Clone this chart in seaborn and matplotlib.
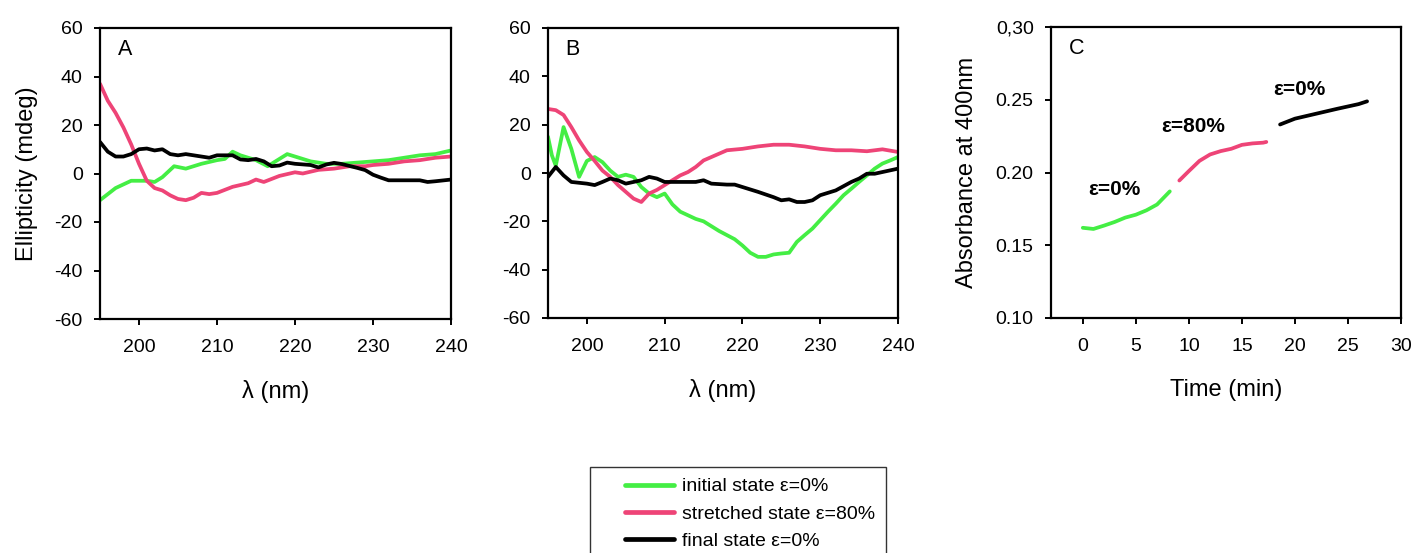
import numpy as np
import pandas as pd
import matplotlib
matplotlib.use("Agg")
import matplotlib.pyplot as plt
from matplotlib.legend_handler import HandlerLine2D
import seaborn as sns

# ---------------- data ----------------
# Panel A
a_green_x = [195, 197, 199, 201, 202, 203, 204.5, 206, 208, 210, 211, 212, 213, 215, 216.5, 218, 219, 220, 222, 224, 226, 228, 230, 232, 234, 236, 238, 240]
a_green_y = [-11, -6, -3, -3, -3.5, -1.5, 3, 2, 4, 5.5, 6, 9, 7.5, 5.5, 3, 6, 8, 7, 5, 4, 4, 4.5, 5, 5.5, 6.5, 7.5, 8, 9.5]
a_pink_x = [195, 196, 197, 198, 199, 200, 201, 202, 203, 204, 205, 206, 207, 208, 209, 210, 212, 214, 215, 216, 218, 220, 221, 223, 225, 227, 229, 230, 232, 234, 236, 238, 240]
a_pink_y = [37, 30, 25, 19, 12, 4, -3, -6, -7, -9, -10.5, -11, -10, -8, -8.5, -8, -5.5, -4, -2.5, -3.5, -1, 0.5, 0, 1.5, 2, 3, 3, 3.5, 4, 5, 5.5, 6.5, 7]
a_black_x = [195, 196, 197, 198, 199, 200, 201, 202, 203, 204, 205, 206, 208, 209, 210, 212, 213, 214, 215, 216, 217, 218, 219, 220, 222, 223, 224, 225, 226, 228, 229, 230, 231, 232, 234, 236, 237, 238, 240]
a_black_y = [13, 9, 7, 7, 8, 10, 10.3, 9.5, 10, 8, 7.5, 8, 7, 6.5, 7.5, 7.5, 5.8, 5.5, 6, 5, 3, 3.3, 4.5, 4, 3.5, 2.5, 3.7, 4.4, 3.9, 2.3, 1.4, -0.5, -1.7, -2.8, -2.8, -2.8, -3.5, -3.2, -2.5]

# Panel B
b_green_x = [195, 195.5, 196, 197, 198, 199, 200, 201, 202, 203, 204, 205, 206, 207, 208, 209, 210, 211, 212, 213, 214, 215, 216, 217, 218, 219, 220, 221, 222, 223, 224, 225, 226, 227, 228, 229, 230, 231, 232, 233, 234, 235, 236, 237, 238, 239, 240]
b_green_y = [15, 7.3, 3, 19, 10, -1.6, 5, 6.6, 4.5, 1, -1.6, -0.7, -1.6, -5.8, -8.5, -10, -8.5, -13, -16, -17.5, -19, -20, -22, -24, -25.7, -27.4, -30, -33, -34.7, -34.7, -33.7, -33.3, -33, -28.5, -25.7, -23, -19.5, -16, -12.7, -9.2, -6.5, -3.7, -1, 1.8, 3.9, 5.2, 6.6]
b_pink_x = [195, 196, 197, 198, 199, 200, 201, 202, 203, 204, 205, 206, 207, 208, 209, 210, 211, 212, 213, 214, 215, 216, 217, 218, 220, 222, 224, 226, 228, 230, 232, 234, 236, 238, 240]
b_pink_y = [26.5, 26, 24, 19, 13.5, 8.7, 5, 1, -1.6, -5, -7.8, -10.6, -12, -8.5, -7, -5, -3, -1, 0.4, 2.5, 5.2, 6.6, 8, 9.4, 10, 11, 11.7, 11.7, 11, 10, 9.4, 9.4, 9, 9.8, 8.7]
b_black_x = [195, 196, 197, 198, 200, 201, 202, 203, 204, 205, 206, 207, 208, 209, 210, 212, 214, 215, 216, 218, 219, 220, 222, 224, 225, 226, 227, 228, 229, 230, 232, 234, 235, 236, 237, 238, 239, 240]
b_black_y = [-1.6, 2.5, -1, -3.7, -4.4, -5, -3.7, -2.3, -3, -4.4, -3.7, -3, -1.6, -2.3, -3.7, -3.7, -3.7, -3, -4.4, -4.8, -4.8, -5.8, -7.8, -10, -11.3, -10.9, -12, -12, -11.3, -9.2, -7.2, -3.7, -2.3, -0.3, -0.3, 0.4, 1.1, 1.8]

# Panel C
c_green_x = [0, 1, 2, 3, 4, 5, 6, 7, 8, 8.2]
c_green_y = [0.162, 0.1612, 0.1635, 0.166, 0.169, 0.171, 0.174, 0.178, 0.1855, 0.187]
c_pink_x = [9.1, 10, 11, 12, 13, 14, 15, 16, 17, 17.3]
c_pink_y = [0.1945, 0.201, 0.208, 0.2124, 0.2147, 0.2163, 0.219, 0.220, 0.2205, 0.221]
c_black_x = [18.6, 20, 22, 24, 26, 26.8]
c_black_y = [0.233, 0.237, 0.2404, 0.2438, 0.247, 0.2489]

labels = ["initial state \u03b5=0%", "stretched state \u03b5=80%", "final state \u03b5=0%"]
c_annot = [("\u03b5=0%", 3.0, 0.188), ("\u03b5=80%", 10.4, 0.2317), ("\u03b5=0%", 20.4, 0.2569)]

GREEN = "#44ee44"
PINK = "#ee4477"
BLACK = "#000000"

# ---------------- style ----------------
sns.set_style("ticks")
plt.rcParams["font.family"] = ["Liberation Sans", "DejaVu Sans"]
plt.rcParams["axes.unicode_minus"] = False
plt.rcParams["text.color"] = "black"
plt.rcParams["axes.labelcolor"] = "black"
plt.rcParams["axes.linewidth"] = 1.6
plt.rcParams["xtick.major.width"] = 1.4
plt.rcParams["ytick.major.width"] = 1.4
plt.rcParams["xtick.major.size"] = 4.5
plt.rcParams["ytick.major.size"] = 4.5
plt.rcParams["xtick.color"] = "black"
plt.rcParams["ytick.color"] = "black"
plt.rcParams["xtick.labelcolor"] = "black"
plt.rcParams["ytick.labelcolor"] = "black"
plt.rcParams["axes.edgecolor"] = "black"

fig = plt.figure(figsize=(14.13, 5.53), dpi=100)
W, H = 1413, 553

def add_axes(l, r, t, b):
    return fig.add_axes([l / W, 1 - b / H, (r - l) / W, (b - t) / H])

axA = add_axes(100, 451, 28, 319)
axB = add_axes(548, 898, 28, 318)
axC = add_axes(1051, 1401, 27, 318)

LW = 2.7

def line(ax, x, y, color, label=None):
    df = pd.DataFrame({"x": x, "y": y})
    sns.lineplot(data=df, x="x", y="y", color=color, linewidth=LW, ax=ax,
                 label=label, estimator=None, sort=False)

line(axA, a_green_x, a_green_y, GREEN, labels[0])
line(axA, a_pink_x, a_pink_y, PINK, labels[1])
line(axA, a_black_x, a_black_y, BLACK, labels[2])

line(axB, b_green_x, b_green_y, GREEN)
line(axB, b_pink_x, b_pink_y, PINK)
line(axB, b_black_x, b_black_y, BLACK)

line(axC, c_green_x, c_green_y, GREEN)
line(axC, c_pink_x, c_pink_y, PINK)
line(axC, c_black_x, c_black_y, BLACK)

TICK_FS = 14
LABEL_FS = 17

for ax, letter in [(axA, "A"), (axB, "B")]:
    ax.set_xlim(195, 240)
    ax.set_ylim(-60, 60)
    ax.set_xticks([200, 210, 220, 230, 240])
    ax.set_yticks([-60, -40, -20, 0, 20, 40, 60])
    ax.set_xlabel("\u03bb (nm)", fontsize=LABEL_FS, labelpad=17)
    ax.set_ylabel("")
    ax.text(0.05, 0.925, letter, transform=ax.transAxes, fontsize=15.5,
            ha="left", va="center")

axA.set_ylabel("Ellipticity (mdeg)", fontsize=LABEL_FS, labelpad=12)

axC.set_xlim(-3, 30)
axC.set_ylim(0.10, 0.30)
axC.set_xticks([0, 5, 10, 15, 20, 25, 30])
axC.set_yticks([0.10, 0.15, 0.20, 0.25, 0.30])
axC.set_yticklabels(["0.10", "0.15", "0.20", "0.25", "0,30"])
axC.set_xlabel("Time (min)", fontsize=LABEL_FS, labelpad=17)
axC.set_ylabel("Absorbance at 400nm", fontsize=LABEL_FS, labelpad=13)
axC.text(0.05, 0.925, "C", transform=axC.transAxes, fontsize=15.5,
         ha="left", va="center")
for txt, x, y in c_annot:
    axC.text(x, y, txt, fontsize=15, fontweight="bold", ha="center", va="center")

for ax in (axA, axB, axC):
    ax.tick_params(axis="both", labelsize=TICK_FS, direction="out")
    ax.tick_params(axis="x", pad=10)
    ax.tick_params(axis="y", pad=8)
    for s in ax.spines.values():
        s.set_visible(True)

handles, labs = axA.get_legend_handles_labels()
axA.get_legend().remove()
leg = fig.legend(handles, labs, loc="upper center", bbox_to_anchor=(738 / W, 1 - 467 / H),
                 fontsize=14, frameon=True, fancybox=False, edgecolor="black",
                 handlelength=3.75, handletextpad=0.42, borderpad=0.55, labelspacing=0.5,
                 borderaxespad=0,
                 handler_map={h: HandlerLine2D(xpad=1.25) for h in handles})
leg.get_frame().set_linewidth(1.0)
for h in leg.get_lines():
    h.set_linewidth(3.4)

fig.savefig("out.png", dpi=100)
